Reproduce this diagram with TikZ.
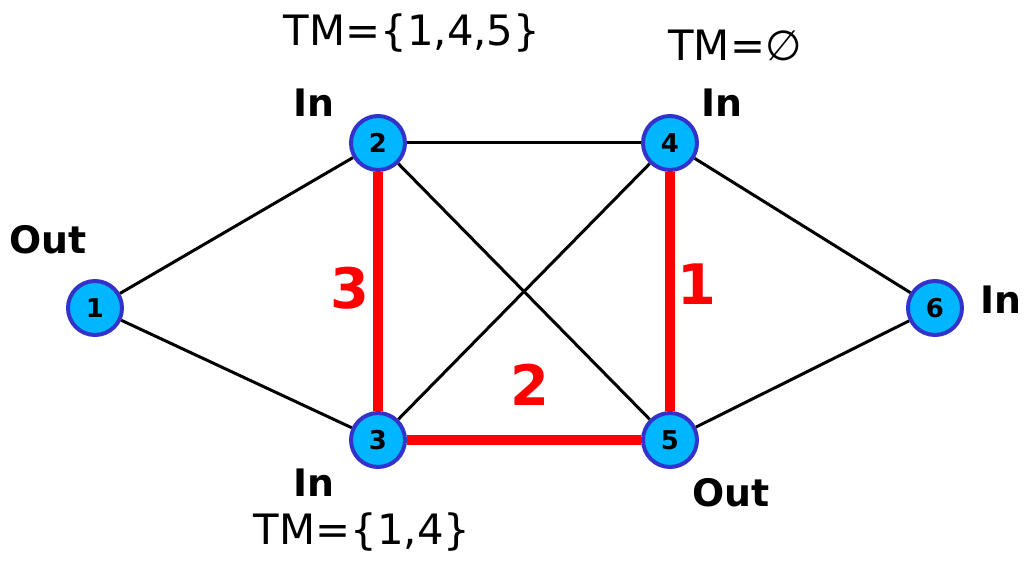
\documentclass[tikz,border=0pt]{standalone}
\usepackage{fontspec}
\setmainfont{DejaVu Sans}
\usepackage{xcolor}
\usepackage{tikz}

\definecolor{nodefill}{RGB}{0,182,255}
\definecolor{nodedraw}{RGB}{51,51,204}

\begin{document}
\begin{tikzpicture}[
  x=0.5bp, y=-0.5bp,
  vtx/.style={circle, draw=nodedraw, fill=nodefill, line width=2bp,
              minimum size=27bp, inner sep=0pt, font=\fontsize{13}{13}\selectfont\bfseries},
  edge/.style={line width=1.5bp, black},
  redge/.style={line width=5bp, red},
  role/.style={font=\fontsize{19}{22}\selectfont\bfseries},
  tm/.style={font=\fontsize{21}{24}\selectfont},
  wt/.style={font=\fontsize{28}{30}\selectfont\bfseries, text=red},
]
\useasboundingbox (0,0) rectangle (1029,561);

%% ===== Vertices =====
\node[vtx] (v1) at (95,308) {1};
\node[vtx] (v2) at (378,143) {2};
\node[vtx] (v3) at (378,440) {3};
\node[vtx] (v4) at (670,143) {4};
\node[vtx] (v5) at (670,440) {5};
\node[vtx] (v6) at (935,308) {6};

%% ===== Edges =====
\draw[edge] (v1) -- (v2);
\draw[edge] (v1) -- (v3);
\draw[edge] (v2) -- (v4);
\draw[edge] (v2) -- (v5);
\draw[edge] (v3) -- (v4);
\draw[edge] (v4) -- (v6);
\draw[edge] (v5) -- (v6);
\draw[redge] (v2) -- (v3);
\draw[redge] (v3) -- (v5);
\draw[redge] (v4) -- (v5);

%% ===== Weights =====
\node[wt] (w3) at (350,288) {3};
\node[wt] (w2) at (530,385) {2};
\node[wt] (w1) at (697,284) {1};

%% ===== Roles =====
\node[role] (r1) at (48,240) {Out};
\node[role] (r2) at (314,103) {In};
\node[role] (r3) at (314,483) {In};
\node[role] (r4) at (722,103) {In};
\node[role] (r5) at (731,493) {Out};
\node[role] (r6) at (1001,300) {In};

%% ===== Transit sets =====
\node[tm] (tm2) at (412,33) {TM=\{1,4,5\}};
\node[tm] (tm4) at (735,45) {TM=∅};
\node[tm] (tm3) at (362,532) {TM=\{1,4\}};

\end{tikzpicture}
\end{document}
